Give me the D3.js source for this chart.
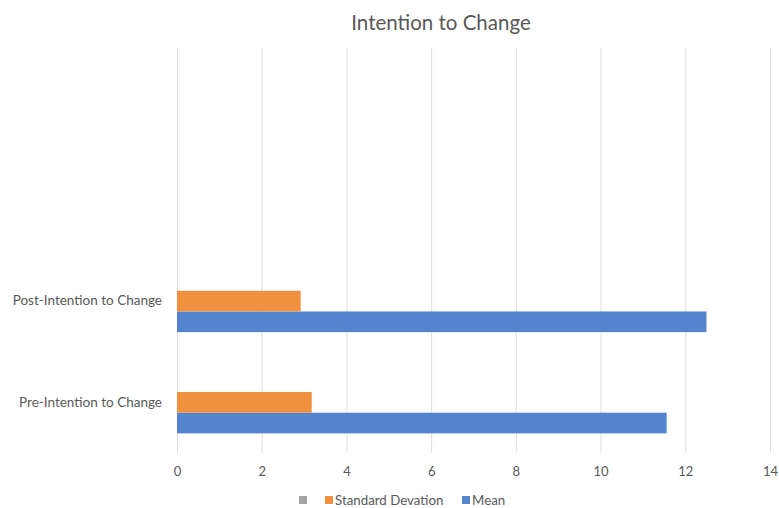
<!DOCTYPE html>
<html>
<head>
<meta charset="utf-8">
<script src="https://cdn.jsdelivr.net/npm/d3@7"></script>
<style>
  body { margin: 0; background: #fff; }
  text { font-family: Lato, "Open Sans", sans-serif; fill: #595959; }
  .grid line { stroke: #dedede; stroke-width: 1; }
</style>
</head>
<body>
<script>
// categories, bottom to top (two empty slots at the top)
var categories = ["Pre-Intention to Change", "Post-Intention to Change", "", ""];
var seriesNames = ["Mean", "Standard Devation", ""];
var meanValues = [11.56, 12.5, null, null];
var sdValues = [3.18, 2.92, null, null];
var blankValues = [null, null, null, null];
var xTicks = [0, 2, 4, 6, 8, 10, 12, 14];
var colors = ["#5585cf", "#f0913f", "#a5a5a5"];

var W = 779, H = 508
  , margin = {top: 48, right: 9, bottom: 55, left: 177}
  , width = W - margin.left - margin.right
  , height = H - margin.top - margin.bottom;

var svgm = d3.select('body').append('svg').attr('width', W).attr('height', H);

svgm.append('text').attr('x', 441).attr('y', 30).attr('text-anchor', 'middle')
    .style('font-size', '20.5px').text('Intention to Change');

var svg = svgm.append('g').attr('transform', `translate(${margin.left},${margin.top})`);

var x = d3.scaleLinear().domain([0, 14]).range([0, width]);
var y = d3.scaleBand().domain(d3.range(categories.length)).range([height, 0]);
// three series inside each band, first series at the bottom
var inner = d3.scaleBand().domain([2, 1, 0]).range([0, y.bandwidth()]).paddingOuter(0.95).paddingInner(0);

var xAxis = d3.axisBottom(x).tickValues(xTicks).tickSize(-height).tickPadding(14);
var gx = svg.append('g').attr('class', 'grid').attr('transform', `translate(0,${height})`).call(xAxis);
gx.select('.domain').remove();
gx.selectAll('text').style('font-size', '13px').attr('fill', '#595959');

var yAxis = d3.axisLeft(y).tickSize(0).tickPadding(15).tickFormat(function(i) { return categories[i]; });
var gy = svg.append('g').call(yAxis);
gy.select('.domain').remove();
gy.selectAll('text').style('font-size', '13.5px').attr('fill', '#595959');

var allSeries = [meanValues, sdValues, blankValues];
allSeries.forEach(function(vals, s) {
    svg.append('g').selectAll('rect').data(vals.map(function(v, i) { return {v: v, i: i}; }).filter(function(d) { return d.v != null; }))
        .enter().append('rect')
        .attr('x', x(0))
        .attr('y', function(d) { return y(d.i) + inner(s); })
        .attr('width', function(d) { return x(d.v) - x(0); })
        .attr('height', inner.bandwidth())
        .attr('fill', colors[s]);
});

// legend
var legendItems = [
    {name: seriesNames[2], color: colors[2], x: 299},
    {name: seriesNames[1], color: colors[1], x: 325},
    {name: seriesNames[0], color: colors[0], x: 462}
];
var lg = svgm.append('g').selectAll('g').data(legendItems).enter().append('g')
    .attr('transform', function(d) { return `translate(${d.x},500)`; });
lg.append('rect').attr('x', 0).attr('y', -4).attr('width', 8).attr('height', 8).attr('fill', function(d) { return d.color; });
lg.append('text').attr('x', 10).attr('y', 4.5).style('font-size', '13.3px').text(function(d) { return d.name; });
</script>
</body>
</html>
